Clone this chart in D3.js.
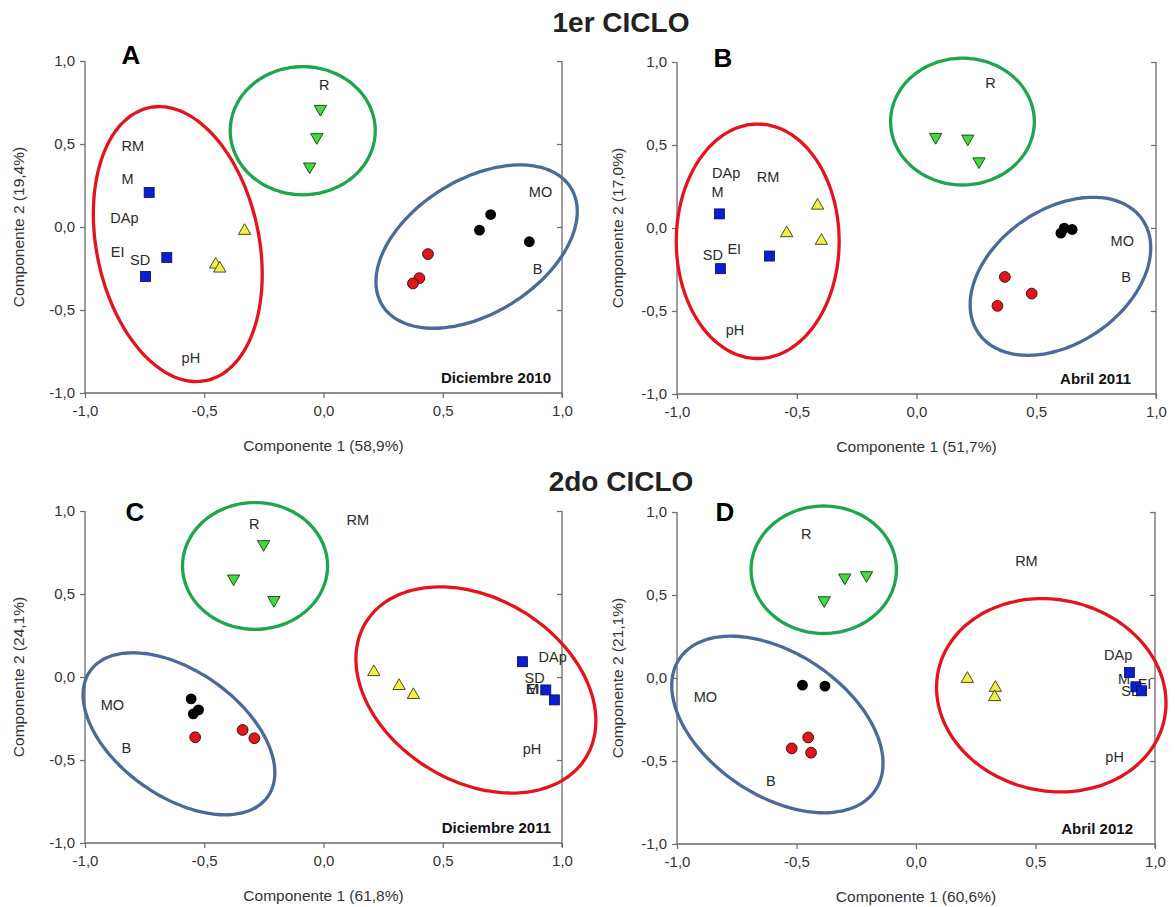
<!DOCTYPE html>
<html><head><meta charset="utf-8">
<script src="https://cdn.jsdelivr.net/npm/d3@7"></script>
<style>body{margin:0;background:#fff}svg{display:block}text{font-family:Arial,"Liberation Sans",sans-serif}</style>
</head><body>
<script>
// ---------- data ----------
const panelIds = ["A", "B", "C", "D"];
const cycleTitles = ["1er CICLO", "2do CICLO"];
const dateTags = ["Diciembre 2010", "Abril 2011", "Diciembre 2011", "Abril 2012"];
const xTitles = ["Componente 1 (58,9%)", "Componente 1 (51,7%)", "Componente 1 (61,8%)", "Componente 1 (60,6%)"];
const yTitles = ["Componente 2 (19,4%)", "Componente 2 (17,0%)", "Componente 2 (24,1%)", "Componente 2 (21,1%)"];
const tickValues = [-1, -0.5, 0, 0.5, 1];

// green down-triangles (R group)
const greenPts = [
  [[-0.013, 0.705], [-0.028, 0.535], [-0.058, 0.358]],
  [[0.080, 0.542], [0.214, 0.532], [0.261, 0.395]],
  [[-0.251, 0.794], [-0.377, 0.587], [-0.208, 0.457]],
  [[-0.384, 0.462], [-0.298, 0.599], [-0.207, 0.613]]
];
// blue squares
const bluePts = [
  [[-0.731, 0.208], [-0.657, -0.184], [-0.746, -0.298]],
  [[-0.823, 0.085], [-0.614, -0.169], [-0.819, -0.245]],
  [[0.834, 0.092], [0.932, -0.078], [0.968, -0.138]],
  [[0.893, 0.033], [0.920, -0.053], [0.944, -0.077]]
];
// yellow up-triangles
const yellowPts = [
  [[-0.331, -0.017], [-0.452, -0.220], [-0.435, -0.244]],
  [[-0.413, 0.141], [-0.542, -0.025], [-0.397, -0.071]],
  [[0.211, 0.036], [0.317, -0.048], [0.377, -0.102]],
  [[0.215, 0.001], [0.332, -0.053], [0.329, -0.109]]
];
// black circles
const blackPts = [
  [[0.701, 0.075], [0.654, -0.019], [0.863, -0.089]],
  [[0.603, -0.031], [0.617, -0.001], [0.650, -0.009]],
  [[-0.555, -0.132], [-0.524, -0.198], [-0.546, -0.222]],
  [[-0.475, -0.043], [-0.381, -0.049]]
];
// red circles
const redPts = [
  [[0.438, -0.163], [0.402, -0.308], [0.375, -0.340]],
  [[0.369, -0.295], [0.481, -0.395], [0.338, -0.469]],
  [[-0.538, -0.363], [-0.339, -0.319], [-0.290, -0.369]],
  [[-0.520, -0.424], [-0.451, -0.358], [-0.439, -0.450]]
];
// variable labels: [name, comp1, comp2]
const varLabels = [
  [["R", 0.003, 0.854], ["RM", -0.80, 0.49], ["M", -0.822, 0.288], ["DAp", -0.835, 0.057], ["EI", -0.863, -0.149], ["SD", -0.769, -0.196], ["pH", -0.556, -0.789], ["MO", 0.910, 0.21], ["B", 0.898, -0.252]],
  [["R", 0.309, 0.876], ["DAp", -0.795, 0.329], ["M", -0.831, 0.215], ["RM", -0.620, 0.305], ["SD", -0.85, -0.161], ["EI", -0.761, -0.129], ["pH", -0.758, -0.612], ["MO", 0.859, -0.075], ["B", 0.875, -0.295]],
  [["R", -0.290, 0.924], ["RM", 0.144, 0.944], ["DAp", 0.961, 0.122], ["SD", 0.885, -0.008], ["EI", 0.877, -0.072], ["M", 0.877, -0.072], ["pH", 0.874, -0.435], ["MO", -0.885, -0.168], ["B", -0.827, -0.429]],
  [["R", -0.459, 0.870], ["RM", 0.462, 0.705], ["DAp", 0.846, 0.137], ["M", 0.870, -0.003], ["EI", 0.956, -0.037], ["SD", 0.901, -0.077], ["pH", 0.831, -0.474], ["MO", -0.881, -0.117], ["B", -0.607, -0.621]]
];
// group ellipses: [centre x, centre y, half-width, half-height, correlation]
const redEllipses = [[-0.611, -0.103, 0.354, 0.828, -0.22], [-0.663, -0.080, 0.340, 0.706, 0], [0.639, -0.078, 0.503, 0.621, -0.30], [0.566, -0.104, 0.480, 0.582, -0.08]];
const greenEllipses = [[-0.087, 0.580, 0.304, 0.386, 0], [0.192, 0.641, 0.300, 0.382, 0], [-0.287, 0.669, 0.304, 0.382, 0], [-0.386, 0.652, 0.304, 0.384, 0]];
const blueEllipses = [[0.642, -0.118, 0.422, 0.492, 0.43], [0.601, -0.291, 0.377, 0.476, 0.36], [-0.606, -0.342, 0.402, 0.488, -0.48], [-0.580, -0.280, 0.442, 0.532, -0.44]];

// ---------- layout ----------
const W = 1175, H = 907;
const layout = [
  {x0: 85, x1: 562, y0: 61, y1: 393, letter: [131, 64], ytx: 18, date: [551, 383]},
  {x0: 677, x1: 1156, y0: 62, y1: 394, letter: [723, 67], ytx: 617, date: [1131, 384]},
  {x0: 85, x1: 562, y0: 511, y1: 843, letter: [135, 521], ytx: 18, date: [551, 833]},
  {x0: 677, x1: 1155, y0: 512, y1: 844, letter: [725, 521], ytx: 617, date: [1133, 834]}
];
const col = {
  redE: "#e3151b", greenE: "#1ea64c", blueE: "#4a6b9a",
  green: "#3fdc3a", blue: "#0b1ed2", yellow: "#f2ee4a", black: "#000", red: "#e0161a",
  axis: "#6a6a6a", text: "#2a2a2a"
};

const svg = d3.select("body").append("svg").attr("width", W).attr("height", H);

// cycle titles
svg.append("text").attr("x", 621).attr("y", 32).attr("text-anchor", "middle")
  .attr("font-size", 28).attr("font-weight", "bold").attr("fill", "#222").text(cycleTitles[0]);
svg.append("text").attr("x", 621).attr("y", 491).attr("text-anchor", "middle")
  .attr("font-size", 28).attr("font-weight", "bold").attr("fill", "#222").text(cycleTitles[1]);

const fmt = v => d3.format(".1f")(v).replace(".", ",").replace("−", "-");

panelIds.forEach((id, i) => {
  const L = layout[i];
  const x = d3.scaleLinear().domain([-1, 1]).range([L.x0, L.x1]);
  const y = d3.scaleLinear().domain([-1, 1]).range([L.y1, L.y0]);
  const g = svg.append("g");

  // axes
  const xAxis = d3.axisBottom(x).tickValues(tickValues).tickFormat(fmt).tickSize(5).tickPadding(7);
  const yAxis = d3.axisLeft(y).tickValues(tickValues).tickFormat(fmt).tickSize(5).tickPadding(5);
  const yRight = d3.axisLeft(y).tickValues(tickValues.slice(1)).tickFormat("").tickSize(5);
  const gx = g.append("g").attr("transform", `translate(0,${L.y1})`).call(xAxis);
  const gy = g.append("g").attr("transform", `translate(${L.x0},0)`).call(yAxis);
  const gr = g.append("g").attr("transform", `translate(${L.x1},0)`).call(yRight);
  [gx, gy, gr].forEach(a => {
    a.select(".domain").attr("stroke", col.axis).attr("stroke-width", 1.3);
    a.selectAll(".tick line").attr("stroke", col.axis).attr("stroke-width", 1.2);
    a.selectAll(".tick text").attr("fill", "#333").attr("font-size", 15).attr("font-family", "Arial, 'Liberation Sans', sans-serif");
  });
  gx.select(".domain").attr("d", `M${L.x0},0H${L.x1}`);
  gy.select(".domain").attr("d", `M0,${L.y0}V${L.y1}`);
  gr.select(".domain").attr("d", `M0,${L.y0}V${L.y1 + 4}`);

  // axis titles
  g.append("text").attr("x", (L.x0 + L.x1) / 2).attr("y", L.y1 + 58).attr("text-anchor", "middle")
    .attr("font-size", 15.5).attr("fill", "#333").text(xTitles[i]);
  g.append("text").attr("transform", `translate(${L.ytx + 5.5},${(L.y0 + L.y1) / 2}) rotate(-90)`)
    .attr("text-anchor", "middle").attr("font-size", 15.5).attr("fill", "#333").text(yTitles[i]);

  // panel letter and date tag
  g.append("text").attr("x", L.letter[0]).attr("y", L.letter[1]).attr("text-anchor", "middle")
    .attr("font-size", 26).attr("font-weight", "bold").attr("fill", "#000").text(id);
  g.append("text").attr("x", L.date[0]).attr("y", L.date[1]).attr("text-anchor", "end")
    .attr("font-size", 15).attr("font-weight", "bold").attr("fill", "#111").text(dateTags[i]);

  // ellipses
  const ell = (e) => {
    const [cx, cy, hw, hh, r] = e;
    const s = Math.sqrt(1 - r * r);
    const pts = d3.range(0, 360, 3).map(a => {
      const t = a * Math.PI / 180;
      return [x(cx + hw * Math.cos(t)), y(cy + hh * (r * Math.cos(t) + s * Math.sin(t)))];
    });
    return d3.line().curve(d3.curveCardinalClosed)(pts);
  };
  [[redEllipses, col.redE], [greenEllipses, col.greenE], [blueEllipses, col.blueE]].forEach(([arr, c]) => {
    g.append("path").attr("d", ell(arr[i])).attr("fill", "none").attr("stroke", c).attr("stroke-width", 3.3);
  });

  // variable labels
  g.selectAll(".vl").data(varLabels[i]).join("text")
    .attr("x", d => x(d[1])).attr("y", d => y(d[2])).attr("dy", "0.35em").attr("text-anchor", "middle")
    .attr("font-size", 14.5).attr("fill", col.text).text(d => d[0]);

  // markers
  const tri = d3.symbol().type(d3.symbolTriangle).size(66)();
  g.selectAll(".gt").data(greenPts[i]).join("path").attr("d", tri)
    .attr("transform", d => `translate(${x(d[0])},${y(d[1]) - 1}) rotate(180)`)
    .attr("fill", col.green).attr("stroke", "#1a3a1a").attr("stroke-width", 0.9);
  g.selectAll(".yt").data(yellowPts[i]).join("path").attr("d", tri)
    .attr("transform", d => `translate(${x(d[0])},${y(d[1]) + 1})`)
    .attr("fill", col.yellow).attr("stroke", "#3a3a10").attr("stroke-width", 0.9);
  g.selectAll(".bs").data(bluePts[i]).join("rect")
    .attr("x", d => x(d[0]) - 5).attr("y", d => y(d[1]) - 5).attr("width", 10).attr("height", 10)
    .attr("fill", col.blue).attr("stroke", "#0a0a50").attr("stroke-width", 0.8);
  g.selectAll(".bc").data(blackPts[i]).join("circle")
    .attr("cx", d => x(d[0])).attr("cy", d => y(d[1])).attr("r", 5.4).attr("fill", col.black);
  g.selectAll(".rc").data(redPts[i]).join("circle")
    .attr("cx", d => x(d[0])).attr("cy", d => y(d[1])).attr("r", 5.4)
    .attr("fill", col.red).attr("stroke", "#3a0505").attr("stroke-width", 0.9);
});
</script>
</body></html>
